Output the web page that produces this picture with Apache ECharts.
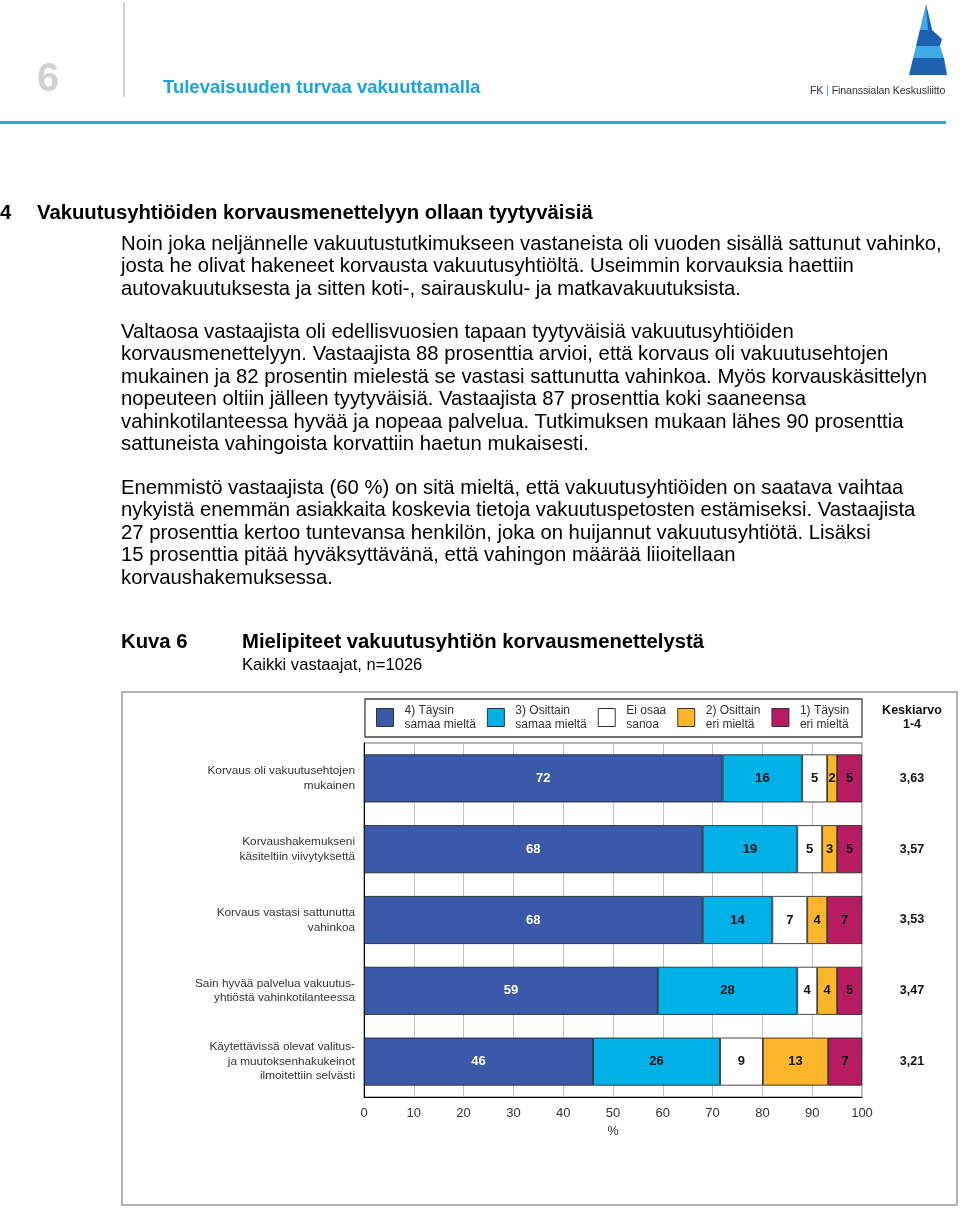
<!DOCTYPE html>
<html>
<head>
<meta charset="utf-8">
<script src="https://cdn.jsdelivr.net/npm/echarts@6/dist/echarts.min.js"></script>
<style>
  html, body { margin: 0; padding: 0; background: #fff; }
  #page { position: relative; width: 960px; height: 1208px; overflow: hidden; font-family: "Liberation Sans", Arial, sans-serif; color: #000; }
  #chart { position: absolute; left: 0; top: 0; width: 960px; height: 1208px; }
  .t { position: absolute; white-space: nowrap; }
  .p { position: absolute; left: 121px; white-space: nowrap; font-size: 20.3px; line-height: 22.4px; }
</style>
</head>
<body>
<div id="page">
  <div id="chart"></div>
  <div class="t" style="left:37px; top:55px; font-size:40px; font-weight:bold; color:#d2d2d2;">6</div>
  <div style="position:absolute; left:123px; top:2px; width:2px; height:95px; background:#d4d4d4;"></div>
  <div class="t" style="left:163px; top:76px; font-size:18.5px; font-weight:bold; color:#1aa6d9;">Tulevaisuuden turvaa vakuuttamalla</div>
  <div class="t" style="left:810px; top:84px; font-size:10.6px; color:#333; letter-spacing:-0.1px;">FK<span style="color:#1aa6d9;"> | </span>Finanssialan Keskusliitto</div>
  <div style="position:absolute; left:0; top:121px; width:946px; height:3px; background:#1fb0dc;"></div>

  <div class="t" style="left:0px; top:201px; font-size:20.3px; font-weight:bold;">4</div>
  <div class="t" style="left:37px; top:201px; font-size:20.3px; font-weight:bold;">Vakuutusyhtiöiden korvausmenettelyyn ollaan tyytyväisiä</div>

  <div class="p" style="top:232px;">Noin joka neljännelle vakuutustutkimukseen vastaneista oli vuoden sisällä sattunut vahinko,<br>josta he olivat hakeneet korvausta vakuutusyhtiöltä. Useimmin korvauksia haettiin<br>autovakuutuksesta ja sitten koti-, sairauskulu- ja matkavakuutuksista.</div>

  <div class="p" style="top:320px;">Valtaosa vastaajista oli edellisvuosien tapaan tyytyväisiä vakuutusyhtiöiden<br>korvausmenettelyyn. Vastaajista 88 prosenttia arvioi, että korvaus oli vakuutusehtojen<br>mukainen ja 82 prosentin mielestä se vastasi sattunutta vahinkoa. Myös korvauskäsittelyn<br>nopeuteen oltiin jälleen tyytyväisiä. Vastaajista 87 prosenttia koki saaneensa<br>vahinkotilanteessa hyvää ja nopeaa palvelua. Tutkimuksen mukaan lähes 90 prosenttia<br>sattuneista vahingoista korvattiin haetun mukaisesti.</div>

  <div class="p" style="top:476px;">Enemmistö vastaajista (60 %) on sitä mieltä, että vakuutusyhtiöiden on saatava vaihtaa<br>nykyistä enemmän asiakkaita koskevia tietoja vakuutuspetosten estämiseksi. Vastaajista<br>27 prosenttia kertoo tuntevansa henkilön, joka on huijannut vakuutusyhtiötä. Lisäksi<br>15 prosenttia pitää hyväksyttävänä, että vahingon määrää liioitellaan<br>korvaushakemuksessa.</div>

  <div class="t" style="left:121px; top:630px; font-size:20.3px; font-weight:bold;">Kuva 6</div>
  <div class="t" style="left:242px; top:630px; font-size:20.3px; font-weight:bold;">Mielipiteet vakuutusyhtiön korvausmenettelystä</div>
  <div class="t" style="left:242px; top:655px; font-size:16.6px;">Kaikki vastaajat, n=1026</div>
</div>
<script>
// ---- data ----
const categories = [
  'Korvaus oli vakuutusehtojen\nmukainen',
  'Korvaushakemukseni\nkäsiteltiin viivytyksettä',
  'Korvaus vastasi sattunutta\nvahinkoa',
  'Sain hyvää palvelua vakuutus-\nyhtiöstä vahinkotilanteessa',
  'Käytettävissä olevat valitus-\nja muutoksenhakukeinot\nilmoitettiin selvästi'
];
const seriesNames = [
  '4) Täysin\nsamaa mieltä',
  '3) Osittain\nsamaa mieltä',
  'Ei osaa\nsanoa',
  '2) Osittain\neri mieltä',
  '1) Täysin\neri mieltä'
];
const fullyAgree     = [72, 68, 68, 59, 46];
const partlyAgree    = [16, 19, 14, 28, 25.5];
const cannotSay      = [5, 5, 7, 4, 8.6];
const partlyDisagree = [2, 3, 4, 4, 13.1];
const fullyDisagree  = [5, 5, 7, 5, 6.8];
const means = [3.63, 3.57, 3.53, 3.47, 3.21];
const meanHeader = 'Keskiarvo\n1-4';
const axisUnit = '%';

const values = [fullyAgree, partlyAgree, cannotSay, partlyDisagree, fullyDisagree];
const colors = ['#3c58a8', '#00b1e7', '#ffffff', '#fdb52b', '#b71c62'];
const labelColors = ['#ffffff', '#111111', '#111111', '#111111', '#111111'];
const FONT = '"Liberation Sans", Arial, sans-serif';

const chart = echarts.init(document.getElementById('chart'), null, { renderer: 'canvas' });

const series = values.map((vals, i) => ({
  name: seriesNames[i],
  type: 'bar',
  stack: 'total',
  barWidth: 48,
  data: vals,
  itemStyle: { color: colors[i], borderColor: '#1a1a1a', borderWidth: 0.8 },
  label: {
    show: true,
    position: 'inside',
    formatter: p => String(Math.round(p.value)),
    color: labelColors[i],
    fontFamily: FONT,
    fontWeight: 'bold',
    fontSize: 13
  },
  emphasis: { disabled: true }
}));

chart.setOption({
  animation: false,
  textStyle: { fontFamily: FONT },
  grid: {
    left: 364, top: 743, width: 498, height: 354,
    show: true, borderColor: '#6a6a6a', borderWidth: 1, backgroundColor: 'rgba(0,0,0,0)'
  },
  legend: {
    data: seriesNames,
    left: 376, top: 704,
    padding: 0,
    itemWidth: 17, itemHeight: 18, itemGap: 11,
    selectedMode: false,
    icon: 'rect',
    itemStyle: { borderColor: '#333', borderWidth: 1 },
    textStyle: { fontFamily: FONT, fontSize: 12, lineHeight: 13.5, color: '#333', padding: [0, 0, 0, 6] }
  },
  xAxis: {
    type: 'value', min: 0, max: 100, interval: 10,
    axisLine: { show: true, lineStyle: { color: '#000', width: 1 } },
    axisTick: { show: false },
    splitLine: { show: true, lineStyle: { color: '#c4c4c4', width: 1 } },
    axisLabel: { fontFamily: FONT, fontSize: 13, color: '#333', margin: 10 },
    name: axisUnit, nameLocation: 'middle', nameGap: 28,
    nameTextStyle: { fontFamily: FONT, fontSize: 12.5, color: '#333' }
  },
  yAxis: [
    {
      type: 'category', data: categories, inverse: true,
      axisLine: { show: true, lineStyle: { color: '#000', width: 1 } },
      axisTick: { show: false },
      splitLine: { show: false },
      axisLabel: { fontFamily: FONT, fontSize: 11.8, color: '#333', lineHeight: 14.5, margin: 9, align: 'right' }
    },
    {
      type: 'category', data: means.map(v => v.toFixed(2).replace('.', ',')), inverse: true,
      position: 'right',
      axisLine: { show: false }, axisTick: { show: false }, splitLine: { show: false },
      axisLabel: { fontFamily: FONT, fontSize: 12.5, fontWeight: 'bold', color: '#111', margin: 50, align: 'center' }
    }
  ],
  series: series,
  graphic: [
    { type: 'rect', silent: true, shape: { x: 122, y: 692, width: 835, height: 513 },
      style: { fill: 'none', stroke: '#9a9a9a', lineWidth: 1.5 } },
    { type: 'rect', silent: true, shape: { x: 365, y: 699, width: 497, height: 38 },
      style: { fill: 'none', stroke: '#444', lineWidth: 1.3 } },
    { type: 'text', silent: true, x: 912, y: 718,
      style: { text: meanHeader, fontFamily: FONT, fontSize: 12.5, fontWeight: 'bold', fill: '#111',
               align: 'center', verticalAlign: 'middle', lineHeight: 14 } },
    // logo
    { type: 'polygon', silent: true, shape: { points: [[926,4],[932,30],[919.8,30]] }, style: { fill: '#41aae6' } },
    { type: 'polygon', silent: true, shape: { points: [[926,4],[932,30],[928,30]] }, style: { fill: '#1d62b0' } },
    { type: 'polygon', silent: true, shape: { points: [[919.8,30],[932,30],[942,39],[940,46],[916,46]] }, style: { fill: '#1d62b0' } },
    { type: 'polygon', silent: true, shape: { points: [[916,46],[940,46],[944,58],[913.1,58]] }, style: { fill: '#41aae6' } },
    { type: 'polygon', silent: true, shape: { points: [[913.1,58],[944,58],[947,75],[909,75]] }, style: { fill: '#1d62b0' } }
  ]
});
</script>
</body>
</html>
